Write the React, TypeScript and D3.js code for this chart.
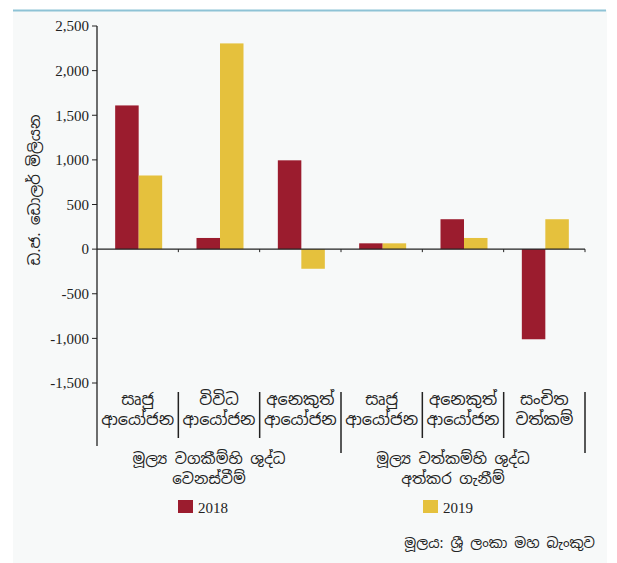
import React from "react";
import * as d3 from "d3";

const categories: string[][] = [
  ["සෘජු", "ආයෝජන"],
  ["විවිධ", "ආයෝජන"],
  ["අනෙකුත්", "ආයෝජන"],
  ["සෘජු", "ආයෝජන"],
  ["අනෙකුත්", "ආයෝජන"],
  ["සංචිත", "වත්කම්"],
];
const groups: string[][] = [
  ["මූල්‍ය වගකීම්හි ශුද්ධ", "වෙනස්වීම්"],
  ["මූල්‍ය වත්කම්හි ශුද්ධ", "අත්කර ගැනීම්"],
];
const series2018: number[] = [1610, 125, 995, 65, 335, -1010];
const series2019: number[] = [825, 2305, -220, 65, 125, 335];
const seriesNames = ["2018", "2019"];
const yTicks: number[] = [2500, 2000, 1500, 1000, 500, 0, -500, -1000, -1500];
const yLabel = "ඩ.ජ. ඩොලර් මිලියන";
const source = "මූලය: ශ්‍රී ලංකා මහ බැංකුව";

const colors = ["#9b1c2e", "#e5c13d"];

export default function App() {
  const W = 617, H = 563;
  const left = 97, right = 585;
  const y = d3.scaleLinear().domain([-1500, 2500]).range([383, 26]);
  const x = d3.scaleBand<number>().domain(d3.range(categories.length)).range([left, right]).padding(0);
  const inner = d3.scaleBand<number>().domain([0, 1]).range([0, 47]);
  const fmt = (v: number) => d3.format(",")(v).replace("−", "-");
  const serif = "'Liberation Serif', 'Times New Roman', serif";
  const sans = "'Noto Sans Sinhala', 'Noto Sans', 'DejaVu Sans', sans-serif";
  const data = [series2018, series2019];
  const groupBounds = [[0, 3], [3, 6]];

  return (
    <svg width={W} height={H} style={{ position: "absolute", left: 0, top: 0 }}>
      <rect x={13} y={10} width={594} height={H - 10} fill="#f7f9f9" />
      <line x1={13} x2={606} y1={10.5} y2={10.5} stroke="#8ec3d6" strokeWidth={2} />

      {/* bars */}
      {data.map((s, si) =>
        s.map((v, i) => {
          const cx = (x(i) as number) + x.bandwidth() / 2 + 1;
          const bx = cx - 23.5 + (inner(si) as number);
          return (
            <rect
              key={`${si}-${i}`}
              x={bx}
              width={inner.bandwidth()}
              y={Math.min(y(v), y(0))}
              height={Math.abs(y(v) - y(0))}
              fill={colors[si]}
            />
          );
        })
      )}

      {/* y axis */}
      <line x1={left} x2={left} y1={y(2500)} y2={446} stroke="#222" strokeWidth={1.3} />
      {yTicks.map((t) => (
        <g key={t}>
          <line x1={left - 5} x2={left} y1={y(t)} y2={y(t)} stroke="#222" strokeWidth={1} />
          <text x={left - 8} y={y(t)} dy="0.35em" textAnchor="end" fontFamily={serif} fontSize={15} fill="#222">
            {fmt(t)}
          </text>
        </g>
      ))}
      <text
        transform={`translate(40, 190) rotate(-90)`}
        textAnchor="middle"
        fontFamily={sans}
        fontSize={15}
        fill="#222"
      >
        {yLabel}
      </text>

      {/* zero line */}
      <line x1={left} x2={right} y1={y(0)} y2={y(0)} stroke="#222" strokeWidth={1.3} />
      {categories.map((_, i) => (
        <line key={i} x1={(x(i) as number) + x.bandwidth()} x2={(x(i) as number) + x.bandwidth()} y1={y(0)} y2={y(0) + 3} stroke="#222" />
      ))}

      {/* category dividers */}
      {categories.map((_, i) => {
        const xx = (x(i) as number) + x.bandwidth();
        const long = i === 2 || i === 5;
        return <line key={i} x1={xx} x2={xx} y1={392} y2={long ? 453 : 438} stroke="#222" strokeWidth={1.5} />;
      })}

      {/* category labels */}
      {categories.map((lines, i) => (
        <text key={i} textAnchor="middle" fontFamily={sans} fontSize={16} fill="#222">
          {lines.map((l, j) => (
            <tspan key={j} x={(x(i) as number) + x.bandwidth() / 2} y={405 + j * 20}>
              {l}
            </tspan>
          ))}
        </text>
      ))}

      {/* group labels */}
      {groups.map((lines, g) => {
        const x0 = x(groupBounds[g][0]) as number;
        const x1 = (x(groupBounds[g][1] - 1) as number) + x.bandwidth();
        const cx = (x0 + x1) / 2 - 10;
        return (
          <text key={g} textAnchor="middle" fontFamily={sans} fontSize={15} fill="#222">
            {lines.map((l, j) => (
              <tspan key={j} x={cx} y={464 + j * 20}>
                {l}
              </tspan>
            ))}
          </text>
        );
      })}

      {/* legend */}
      {seriesNames.map((n, i) => {
        const lx = i === 0 ? 178 : 423;
        return (
          <g key={n}>
            <rect x={lx} y={500} width={15} height={13} fill={colors[i]} />
            <text x={lx + 20} y={513} fontFamily={serif} fontSize={15} fill="#222">
              {n}
            </text>
          </g>
        );
      })}

      <text x={595} y={548} textAnchor="end" fontFamily={sans} fontSize={14} fill="#222">
        {source}
      </text>
    </svg>
  );
}
